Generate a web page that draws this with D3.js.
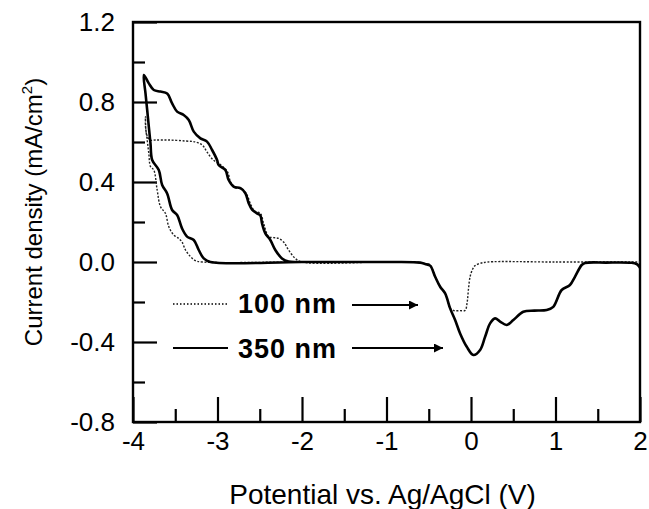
<!DOCTYPE html>
<html><head><meta charset="utf-8">
<script src="https://cdn.jsdelivr.net/npm/d3@7"></script>
<style>
body{margin:0;background:#fff;}
text{font-family:"Liberation Sans",Arial,sans-serif;fill:#000;}
</style></head>
<body><svg id="c" width="649" height="509"></svg>
<script>
// ---- data ----
const xMajorTicks = [-4,-3,-2,-1,0,1,2];
const xMinorTicks = [-3.5,-2.5,-1.5,-0.5,0.5,1.5];
const yMajorTicks = [-0.8,-0.4,0.0,0.4,0.8,1.2];
const yMinorTicks = [-0.6,-0.2,0.2,0.6,1.0];
const seriesNames = ["100 nm","350 nm"];

// 350 nm: potential (V) and current density (mA/cm2)
const potential350 = [-1.0,-2.0,-3.084,-3.163,-3.222,-3.281,-3.36,-3.42,-3.478,-3.537,-3.596,-3.655,-3.695,-3.773,-3.793,-3.813,-3.832,-3.852,-3.872,
  -3.813,-3.754,-3.675,-3.596,-3.537,-3.478,-3.40,-3.34,-3.281,-3.202,-3.124,-3.064,-3.005,-2.986,-2.907,-2.868,-2.809,-2.729,-2.67,-2.631,-2.591,-2.532,-2.493,-2.473,-2.434,-2.375,-2.316,-2.237,-2.159,-2.0,
  -1.0,-0.6,-0.543,-0.484,-0.424,-0.365,-0.306,-0.247,-0.188,-0.129,-0.05,0.028,0.108,0.167,0.226,0.285,0.344,0.423,0.501,0.619,0.75,0.896,0.974,1.073,1.171,1.23,1.31,1.349,1.6,1.9,1.96,1.985,2.0];
const current350 = [0,0,0,0.018,0.06,0.11,0.127,0.168,0.235,0.26,0.343,0.385,0.46,0.51,0.593,0.677,0.76,0.843,0.935,
  0.893,0.86,0.852,0.843,0.793,0.752,0.735,0.71,0.652,0.618,0.602,0.56,0.51,0.485,0.46,0.41,0.377,0.369,0.344,0.294,0.262,0.243,0.233,0.193,0.143,0.11,0.06,0.018,0.002,0,
  0,-0.003,-0.01,-0.018,-0.074,-0.124,-0.157,-0.232,-0.29,-0.357,-0.424,-0.465,-0.44,-0.374,-0.307,-0.282,-0.298,-0.315,-0.29,-0.249,-0.243,-0.24,-0.224,-0.14,-0.115,-0.074,-0.015,-0.005,-0.003,-0.004,-0.01,-0.02,-0.03];

// 100 nm
const potential100 = [-1.0,-2.0,-3.18,-3.261,-3.32,-3.379,-3.42,-3.459,-3.518,-3.577,-3.616,-3.675,-3.714,-3.754,-3.793,-3.813,-3.832,-3.852,-3.852,
  -3.84,-3.80,-3.734,-3.577,-3.38,-3.261,-3.18,-3.124,-3.05,-2.96,-2.88,-2.845,-2.79,-2.71,-2.65,-2.61,-2.56,-2.493,-2.454,-2.395,-2.336,-2.277,-2.218,-2.159,-2.08,-2.0,
  -1.0,-0.6,-0.543,-0.484,-0.424,-0.365,-0.306,-0.247,-0.2,-0.13,-0.07,-0.045,-0.031,-0.011,0.02,0.048,0.108,0.2,1.0,2.0];
const current100 = [0,0,0,0.007,0.027,0.06,0.10,0.118,0.135,0.177,0.243,0.277,0.36,0.46,0.477,0.543,0.61,0.677,0.727,
  0.64,0.61,0.61,0.61,0.605,0.60,0.585,0.55,0.51,0.485,0.45,0.40,0.372,0.364,0.335,0.29,0.255,0.243,0.193,0.127,0.122,0.118,0.10,0.06,0.018,0,
  0,-0.003,-0.01,-0.015,-0.074,-0.124,-0.157,-0.232,-0.243,-0.243,-0.242,-0.2,-0.14,-0.074,-0.035,-0.018,-0.007,0,0,0];

// ---- layout ----
const svg = d3.select("#c");
const L=133, R=640, T=22, B=422;
const x = d3.scaleLinear().domain([-4,2]).range([L,R]);
const y = d3.scaleLinear().domain([-0.8,1.2]).range([B,T]);

// axes (inward ticks)
const gx = svg.append("g").attr("transform",`translate(0,${B})`)
  .call(d3.axisBottom(x).tickValues(xMajorTicks).tickSizeInner(-25).tickSizeOuter(0).tickPadding(10).tickFormat(d3.format("d")));
svg.append("g").attr("transform",`translate(0,${B})`)
  .call(d3.axisBottom(x).tickValues(xMinorTicks).tickSizeInner(-13).tickSizeOuter(0).tickFormat(""));
const gy = svg.append("g").attr("transform",`translate(${L},0)`)
  .call(d3.axisLeft(y).tickValues(yMajorTicks).tickSizeInner(-24).tickSizeOuter(0).tickPadding(18).tickFormat(d3.format(".1f")));
svg.append("g").attr("transform",`translate(${L},0)`)
  .call(d3.axisLeft(y).tickValues(yMinorTicks).tickSizeInner(-12).tickSizeOuter(0).tickFormat(""));
svg.selectAll(".domain").remove();
svg.selectAll(".tick line").attr("stroke","#000").attr("stroke-width",2.2);
gx.selectAll("text").attr("font-size",26).attr("dy","0.71em");
gy.selectAll("text").attr("font-size",26);
svg.selectAll(".tick text").text(function(){return this.textContent.replace("\u2212","-");});

svg.append("rect").attr("x",L).attr("y",T).attr("width",R-L).attr("height",B-T)
  .attr("fill","none").attr("stroke","#000").attr("stroke-width",2.4);

// curves
const line = d3.line().x(d=>x(d[0])).y(d=>y(d[1])).curve(d3.curveCatmullRom.alpha(0.5));
const d350 = potential350.map((p,i)=>[p,current350[i]]);
const d100 = potential100.map((p,i)=>[p,current100[i]]);
svg.append("path").datum(d100).attr("d",line).attr("fill","none")
  .attr("stroke","#222").attr("stroke-width",1.4).attr("stroke-dasharray","2,1.6");
svg.append("path").datum(d350).attr("d",line).attr("fill","none")
  .attr("stroke","#000").attr("stroke-width",2.6).attr("stroke-linejoin","round");

// legend with arrows
const defs = svg.append("defs");
defs.append("marker").attr("id","ah").attr("viewBox","0 0 10 10").attr("refX",10).attr("refY",5)
  .attr("markerWidth",13).attr("markerHeight",9).attr("markerUnits","userSpaceOnUse").attr("orient","auto")
  .append("path").attr("d","M0,0L10,5L0,10Z").attr("fill","#000");

const leg = [
  {name:seriesNames[0], ly:304, dash:"1.5,2", sw:1.3, tx:238, tb:313, a0:352, a1:418, ay:305},
  {name:seriesNames[1], ly:348, dash:null, sw:2.2, tx:238, tb:358, a0:352, a1:443, ay:348}
];
leg.forEach(e=>{
  svg.append("line").attr("x1",173).attr("x2",228).attr("y1",e.ly).attr("y2",e.ly)
    .attr("stroke","#000").attr("stroke-width",e.sw).attr("stroke-dasharray",e.dash);
  svg.append("text").attr("x",e.tx).attr("y",e.tb).attr("font-size",27).attr("font-weight","bold")
    .attr("letter-spacing",1).text(e.name);
  svg.append("line").attr("x1",e.a0).attr("x2",e.a1).attr("y1",e.ay).attr("y2",e.ay)
    .attr("stroke","#000").attr("stroke-width",2).attr("marker-end","url(#ah)");
});

// axis titles
svg.append("text").attr("x",(L+R)/2-4).attr("y",504).attr("text-anchor","middle").attr("font-size",28)
  .text("Potential vs. Ag/AgCl (V)");
const yt = svg.append("text").attr("transform",`translate(42,${(T+B)/2-10}) rotate(-90)`).attr("text-anchor","middle").attr("font-size",24);
yt.append("tspan").text("Current density (mA/cm");
yt.append("tspan").attr("font-size",15).attr("dy",-10).text("2");
yt.append("tspan").attr("dy",10).text(")");
</script></body></html>
